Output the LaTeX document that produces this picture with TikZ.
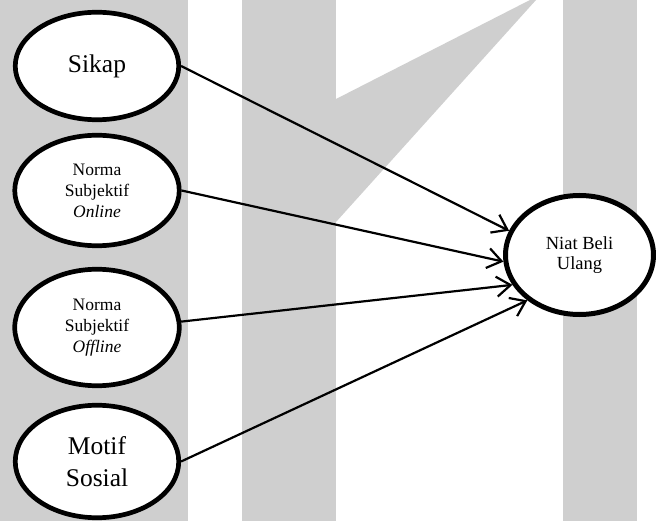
\documentclass[tikz,border=0pt]{standalone}
\usepackage{fontspec}
\setmainfont{Liberation Serif}
\usetikzlibrary{shapes.geometric,arrows.meta}
\definecolor{wmgray}{RGB}{207,207,207}
\begin{document}
\begin{tikzpicture}[x=1pt,y=-1pt,
  factor/.style={ellipse, draw, line width=4.7pt, fill=white, inner sep=0pt,
    align=center, minimum width=163.5pt},
  bigtext/.style={font=\fontsize{25.5}{32}\selectfont},
  smalltext/.style={font=\fontsize{17.5}{21}\selectfont},
  link/.style={line width=2.2pt,
    -{Straight Barb[length=14pt,width=20pt,line width=2.2pt]}}]
  % canvas and watermark bands
  \useasboundingbox (0,0) rectangle (656,521);
  \fill[white] (0,0) rectangle (656,521);
  \fill[wmgray] (0,0) rectangle (188,521);
  \fill[wmgray] (242,0) rectangle (336,521);
  \fill[wmgray] (336,99) -- (530,0) -- (536,0) -- (336,222) -- cycle;
  \fill[wmgray] (563,0) rectangle (637,521);

  % predictors
  \node[factor, bigtext, minimum height=107.5pt] (sikap) at (97,66) {Sikap};
  \node[factor, smalltext, minimum width=164.5pt, minimum height=110.5pt]
    (online) at (97,190.5) {Norma\\Subjektif\\\textit{Online}};
  \node[factor, smalltext, minimum width=164.5pt, minimum height=116.5pt]
    (offline) at (97,327.5) {Norma\\Subjektif\\\textit{Offline}};
  \node[factor, bigtext, minimum height=112.5pt] (motif) at (97,461.5)
    {Motif\\Sosial};

  % outcome
  \node[factor, line width=5pt, font=\fontsize{18.5}{20.5}\selectfont,
    minimum width=148pt, minimum height=119pt] (niat) at (579.5,255)
    {Niat Beli\\Ulang};

  % paths
  \draw[link] (sikap.east) -- (niat.161);
  \draw[link] (online.east) -- (niat.185);
  \draw[link] (offline.4) -- (niat.204);
  \draw[link] (motif.east) -- (niat.221);
\end{tikzpicture}
\end{document}
